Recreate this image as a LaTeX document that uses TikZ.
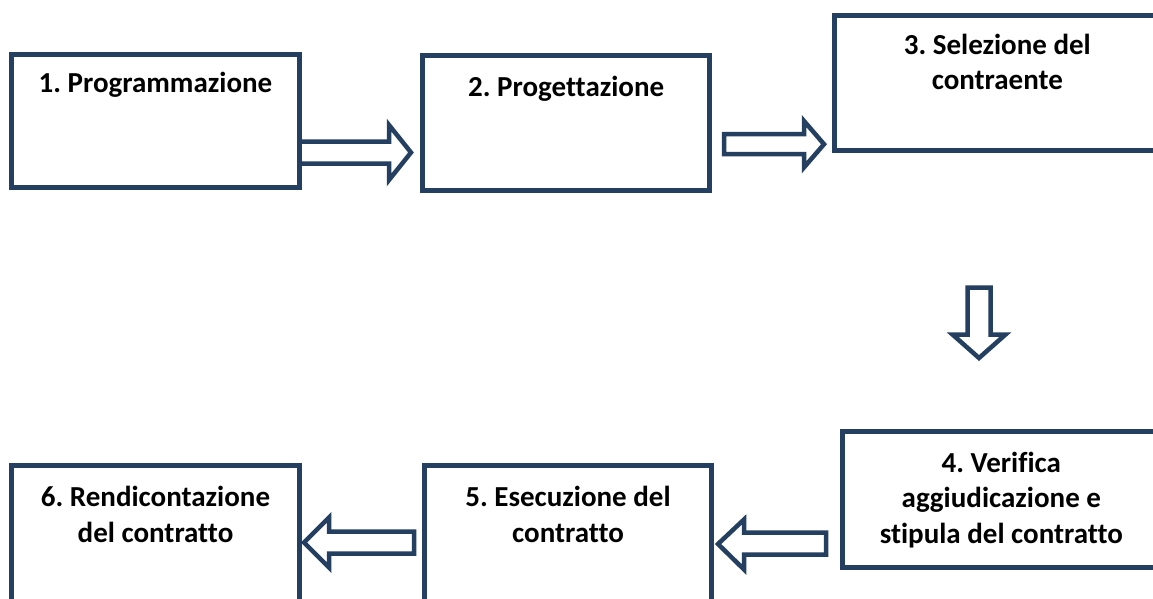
\documentclass[tikz,border=0pt]{standalone}
\usepackage{fontspec}
\setmainfont{Carlito}[Ligatures={NoCommon}]
\frenchspacing
\definecolor{navy}{HTML}{243F60}
\tikzset{
  stepbox/.style={draw=navy, line width=5pt, minimum width=#1, inner sep=0pt},
  boxtext/.style={anchor=base, align=center, font=\fontsize{29}{35.5}\selectfont\bfseries, text=black, inner sep=0pt},
  blockarrow/.style={draw=navy, line width=4.5pt, fill=white, miter limit=10}
}
\begin{document}
\begin{tikzpicture}[x=1pt,y=-1pt]
\useasboundingbox (0,0) rectangle (1153,599);
\clip (0,0) rectangle (1153,599);
\fill[white] (0,0) rectangle (1153,599);
% boxes
\node[stepbox=288pt, minimum height=133pt] (b1) at (155.5,121) {};
\node[stepbox=287pt, minimum height=135pt] (b2) at (566.2,123.3) {};
\node[stepbox=325.5pt, minimum height=135pt] (b3) at (997.3,83) {};
\node[stepbox=317.5pt, minimum height=136pt] (b4) at (1001.3,499.5) {};
\node[stepbox=287pt, minimum height=136pt] (b5) at (568,533.5) {};
\node[stepbox=288pt, minimum height=136pt] (b6) at (155.5,533.5) {};
% texts (anchor base = last line baseline)
\node[boxtext] (t1) at (155.5,93) {1. Programmazione};
\node[boxtext] (t2) at (566.2,97) {2. Progettazione};
\node[boxtext] (t3) at (997.3,90) {3. Selezione del\\contraente};
\node[boxtext] (t4) at (1001.3,543) {4. Verifica\\aggiudicazione e\\stipula del contratto};
\node[boxtext] (t5) at (568,542) {5. Esecuzione del\\contratto};
\node[boxtext] (t6) at (155.5,542) {6. Rendicontazione\\del contratto};
% block arrows
\draw[blockarrow] (302,141.5) -- (389,141.5) -- (389,125) -- (411,152.5) -- (389,180) -- (389,163.5) -- (302,163.5);
\draw[blockarrow] (724,134.2) -- (804,134.2) -- (804,121) -- (824,144.2) -- (804,167.4) -- (804,154.2) -- (724,154.2) -- cycle;
\draw[blockarrow] (967.5,287.5) -- (990.5,287.5) -- (990.5,334.5) -- (1005.5,334.5) -- (979,358) -- (952.5,334.5) -- (967.5,334.5) -- cycle;
\draw[blockarrow] (826,532.5) -- (744,532.5) -- (744,519.5) -- (718,544) -- (744,569.5) -- (744,554.5) -- (826,554.5) -- cycle;
\draw[blockarrow] (414,531.5) -- (329,531.5) -- (329,517.5) -- (304,542.5) -- (329,567.5) -- (329,553.5) -- (414,553.5) -- cycle;
\end{tikzpicture}
\end{document}
